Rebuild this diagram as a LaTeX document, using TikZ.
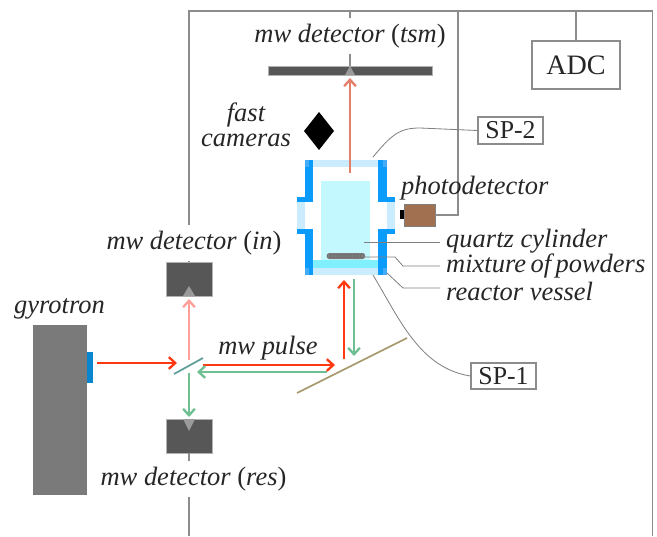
\documentclass[tikz,border=0pt]{standalone}
\usepackage{fontspec}
\setmainfont{Liberation Serif}
\usetikzlibrary{arrows.meta}

\definecolor{wiregray}{HTML}{8C8C8C}
\definecolor{detgray}{HTML}{575757}
\definecolor{tipgray}{HTML}{9A9A9A}
\definecolor{wallblue}{HTML}{0A9BFB}
\definecolor{cornerblue}{HTML}{44ABF8}
\definecolor{lidblue}{HTML}{CBEBFF}
\definecolor{quartzcyan}{HTML}{C3F8FF}
\definecolor{bandcyan}{HTML}{80F0FF}
\definecolor{beamred}{HTML}{FF3A12}
\definecolor{beampink}{HTML}{FF9F9A}
\definecolor{beamorange}{HTML}{E4806A}
\definecolor{beamgreen}{HTML}{6FBF92}

\tikzset{
  wire/.style={draw=wiregray, line width=1pt},
  leader/.style={draw=gray, line width=0.7pt},
  beam/.style={line width=2pt, -{Straight Barb[length=5.5pt,width=10pt,line width=2pt]}},
  detbox/.style={fill=detgray, draw=gray!60, line width=0.3pt, minimum width=1.38cm, minimum height=1.02cm, inner sep=0pt},
  txt/.style={font=\fontsize{22.6}{21}\selectfont\itshape, text=black!85, inner sep=0pt},
  txtw/.style={txt, fill=white, inner ysep=5pt},
  tagbox/.style={draw=wiregray, line width=1.1pt, fill=white, font=\fontsize{22}{24}\selectfont, text=black!85, inner sep=0pt}
}

\begin{document}
\begin{tikzpicture}[x=0.03cm, y=-0.03cm]
  \useasboundingbox (0,0) rectangle (657,536);

  % Frame corners and beam ends
  \coordinate (ftl) at (189,11);
  \coordinate (ftr) at (652.5,11);
  \coordinate (fbr) at (652.5,536);
  \coordinate (fbl) at (189,536);
  \coordinate (ftsm) at (350,11);
  \coordinate (fpd) at (458,11);
  \coordinate (fadc) at (576,11);

  % Detectors and boxes
  \node[detbox] (det in) at (189,279) {};
  \node[detbox] (det res) at (189,436) {};
  \node[detbox, minimum width=4.92cm, minimum height=0.27cm] (det tsm) at (350,70.5) {};
  \node[tagbox, minimum width=2.64cm, minimum height=1.44cm, font=\fontsize{24}{24}\selectfont] (adc) at (576,65) {\raisebox{-2pt}{ADC}};
  \node[tagbox, minimum width=1.95cm, minimum height=0.81cm] (sp2) at (510.5,130.5) {\raisebox{-1pt}{SP-2}};
  \node[tagbox, minimum width=1.95cm, minimum height=0.78cm] (sp1) at (503.5,376) {\raisebox{-1pt}{SP-1}};

  % Gyrotron
  \node[fill=black!52, minimum width=1.62cm, minimum height=5.1cm, inner sep=0pt] (gyro) at (60,410) {};
  \fill[fill={rgb,255:red,10;green,134;blue,208}] (87,352) rectangle (93,383);

  % Photodetector
  \node[fill={rgb,255:red,160;green,112;blue,80}, draw=black!50, line width=0.3pt, minimum width=0.93cm, minimum height=0.66cm, inner sep=0pt] (pd) at (419.5,215) {};
  \fill[black] (400,210) rectangle (404,219);

  % Wires
  \draw[wire] (fbl) -- (det res.south);
  \draw[wire] (det in.north) -- (ftl) -- (ftr) -- (fbr);
  \draw[wire] (ftsm) -- (det tsm.north);
  \draw[wire] (pd.east) -| (fpd);
  \draw[wire] (fadc) -- (adc.north);

  % Small triangles
  \fill[tipgray] (189,286) -- (183,296) -- (195,296) -- cycle;
  \fill[tipgray] (189,431) -- (183,419) -- (195,419) -- cycle;
  \fill[tipgray] (350,66) -- (345,75) -- (355,75) -- cycle;

  % Vessel
  \fill[quartzcyan] (321,181) rectangle (370,260);
  \fill[bandcyan] (313,260) rectangle (378,268);
  \fill[lidblue] (313,160) rectangle (378,167);
  \fill[lidblue] (313,268) rectangle (378,275);
  \fill[lidblue] (297,202) rectangle (305,230);
  \fill[lidblue] (387,202) rectangle (395,230);
  \foreach \xa/\xb/\xc/\xd in {305/313/297/313, 378/387/378/395} {
    \fill[wallblue] (\xa,160) rectangle (\xb,202);
    \fill[wallblue] (\xc,197) rectangle (\xd,202);
    \fill[wallblue] (\xc,229) rectangle (\xd,234);
    \fill[wallblue] (\xa,229) rectangle (\xb,275);
  }
  \foreach \xa/\xb in {305/309, 383/387} {
    \fill[cornerblue] (\xa,160) rectangle (\xb,167);
    \fill[cornerblue] (\xa,268) rectangle (\xb,275);
  }
  % Powder
  \fill[gray, rounded corners=2pt] (327,253) rectangle (365,259);
  \foreach \x in {329,332,...,362} {
    \draw[black!60, line width=0.3pt] (\x,256) circle (2.2);
  }

  % Leader lines
  \coordinate (lq) at (364,242);
  \coordinate (lm) at (363,257);
  \coordinate (lr) at (387,273);
  \coordinate (l1) at (373,275);
  \coordinate (l2) at (373,157);
  \draw[leader] (lq) -- (440,242);
  \draw[leader] (lm) -- (395,257) -- (403,266) -- (440,266);
  \draw[leader] (lr) -- (403,288) -- (440,288);
  \draw[leader] (l1) .. controls (400,320) and (420,368) .. (sp1.west);
  \draw[leader] (l2) .. controls (392,134) and (400,128) .. (420,128) -- (sp2.west);

  % Mirror and splitter
  \coordinate (mra) at (297,393);
  \coordinate (mrb) at (407,338);
  \coordinate (spa) at (174,374);
  \coordinate (spb) at (203,358);
  \draw[draw={rgb,255:red,168;green,154;blue,110}, line width=1.5pt] (mra) -- (mrb);
  \draw[draw={rgb,255:red,95;green,158;blue,154}, line width=1.5pt] (spa) -- (spb);

  % Beams
  \coordinate (b1) at (97,363);
  \coordinate (b2) at (177,363);
  \coordinate (b3) at (189,360);
  \coordinate (b4) at (189,373);
  \coordinate (b5) at (203,365);
  \coordinate (b6) at (335,365);
  \coordinate (b7) at (327,372);
  \coordinate (b8) at (197,372);
  \coordinate (b9) at (344,359);
  \coordinate (b10) at (344,280);
  \coordinate (b11) at (354,279);
  \coordinate (b12) at (354,356);
  \coordinate (b13) at (350,173);
  \draw[beam, beamred] (b1) -- (b2);
  \draw[beam, beampink] (b3) -- (189,299);
  \draw[beam, beamgreen] (b4) -- (189,417);
  \draw[beam, beamred] (b5) -- (b6);
  \draw[beam, beamgreen] (b7) -- (b8);
  \draw[beam, beamred] (b9) -- (b10);
  \draw[beam, beamgreen] (b11) -- (b12);
  \draw[beam, beamorange] (b13) -- (350,78);

  % Fast cameras
  \fill[black] (319,112) -- (334,131) -- (319,150) -- (304,131) -- cycle;

  % Labels
  \node[txtw] (l tsm) at (350,36) {mw detector {\upshape(}tsm{\upshape)}};
  \node[txtw, minimum height=1.08cm] (l in) at (194,243) {mw detector {\upshape(}in{\upshape)}};
  \node[txtw, minimum height=0.84cm] (l res) at (193.5,479) {mw detector {\upshape(}res{\upshape)}};
  \node[txt, align=center] (l cam) at (246,125) {fast\\cameras};
  \node[txt, anchor=west] (l pd) at (401,188) {photodetector};
  \node[txt] (l gyro) at (59.5,309) {gyrotron};
  \node[txt] (l pulse) at (268,348) {mw pulse};
  \node[txt, anchor=west] (l q) at (446,241) {quartz cylinder};
  \node[txt, anchor=west] (l m) at (446,266) {mixture\,of\,powders};
  \node[txt, anchor=west] (l r) at (446,291) {reactor vessel};
\end{tikzpicture}
\end{document}
